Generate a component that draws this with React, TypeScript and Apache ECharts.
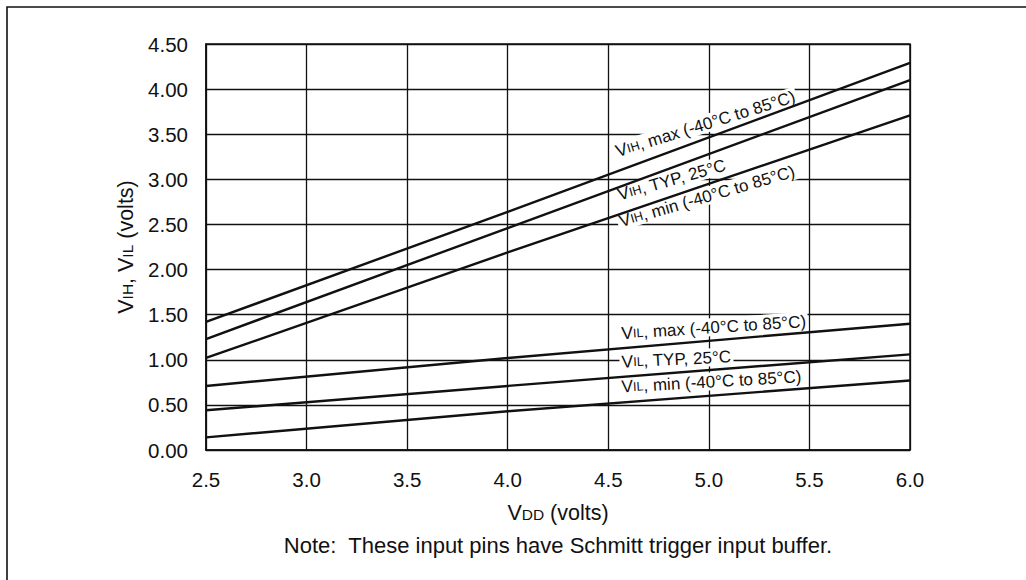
import React, { useEffect, useRef } from "react";
import * as echarts from "echarts";

// ---- data ----
const vdd = [2.5, 4.0, 6.0];
const vihMax = [1.42, 2.64, 4.29];
const vihTyp = [1.23, 2.46, 4.1];
const vihMin = [1.02, 2.19, 3.71];
const vilMax = [0.71, 1.02, 1.4];
const vilTyp = [0.44, 0.71, 1.06];
const vilMin = [0.14, 0.43, 0.77];

const xTickLabels = ["2.5", "3.0", "3.5", "4.0", "4.5", "5.0", "5.5", "6.0"];
const yTickLabels = ["0.00", "0.50", "1.00", "1.50", "2.00", "2.50", "3.00", "3.50", "4.00", "4.50"];

const curves = [
  { name: "VIH max", values: vihMax },
  { name: "VIH typ", values: vihTyp },
  { name: "VIH min", values: vihMin },
  { name: "VIL max", values: vilMax },
  { name: "VIL typ", values: vilTyp },
  { name: "VIL min", values: vilMin },
];

// curve annotations: subscript, remaining text, anchor in data coords, angle (deg)
const annSub = ["IH", "IH", "IH", "IL", "IL", "IL"];
const annText = [
  ", max (-40°C to 85°C)",
  ", TYP, 25°C",
  ", min (-40°C to 85°C)",
  ", max (-40°C to 85°C)",
  ", TYP, 25°C",
  ", min (-40°C to 85°C)",
];
const annX = [4.542, 4.55, 4.558, 4.558, 4.558, 4.558];
const annY = [3.251, 2.771, 2.475, 1.238, 0.923, 0.646];
const annAngle = [17.3, 15.8, 16.2, 3.8, 2.8, 3.3];

const noteText = "Note:  These input pins have Schmitt trigger input buffer.";

const INK = "#111";
const FONT = "'Liberation Sans', Arial, Helvetica, sans-serif";

export default function App() {
  const ref = useRef<HTMLDivElement>(null);

  useEffect(() => {
    if (!ref.current) return;
    const chart = echarts.init(ref.current, null, { renderer: "svg" });

    const nameRich = {
      v: { fontSize: 21.5, fontFamily: FONT, color: INK, verticalAlign: "bottom" },
      s: { fontSize: 15.5, fontFamily: FONT, color: INK, verticalAlign: "bottom", padding: [0, 0, 2, 0] },
      t: { fontSize: 21.5, fontFamily: FONT, color: INK, verticalAlign: "bottom" },
    };

    const baseOption: any = {
      animation: false,
      backgroundColor: "#fff",
      textStyle: { fontFamily: FONT, color: INK },
      grid: {
        left: 206,
        top: 44,
        right: 116,
        bottom: 130,
        show: true,
        borderColor: INK,
        borderWidth: 1.5,
      },
      xAxis: {
        type: "value",
        min: 2.5,
        max: 6.0,
        interval: 0.5,
        name: "{v|V}{s|DD}{t| (volts)}",
        nameLocation: "middle",
        nameGap: 52,
        nameTextStyle: { rich: nameRich },
        axisLine: { show: true, lineStyle: { color: INK, width: 1.5 } },
        axisTick: { show: false },
        splitLine: { show: true, lineStyle: { color: INK, width: 1.3 } },
        axisLabel: {
          color: INK,
          fontSize: 20.5,
          fontFamily: FONT,
          margin: 19,
          formatter: (v: number) => xTickLabels[Math.round((v - 2.5) / 0.5)] ?? "",
        },
      },
      yAxis: {
        type: "value",
        min: 0,
        max: 4.5,
        interval: 0.5,
        name: "{v|V}{s|IH}{t|, }{v|V}{s|IL}{t| (volts)}",
        nameLocation: "middle",
        nameGap: 62,
        nameTextStyle: { rich: nameRich },
        axisLine: { show: true, lineStyle: { color: INK, width: 1.5 } },
        axisTick: { show: false },
        splitLine: { show: true, lineStyle: { color: INK, width: 1.3 } },
        axisLabel: {
          color: INK,
          fontSize: 20.5,
          fontFamily: FONT,
          margin: 18,
          formatter: (v: number) => yTickLabels[Math.round(v / 0.5)] ?? "",
        },
      },
      series: curves.map((c) => ({
        name: c.name,
        type: "line",
        z: 3,
        symbol: "none",
        silent: true,
        lineStyle: { color: INK, width: 2.4 },
        data: vdd.map((x, i) => [x, c.values[i]]),
      })),
    };

    chart.setOption(baseOption);

    const labelRich = {
      v: { fontSize: 17.5, fontFamily: FONT, fill: INK, verticalAlign: "bottom" },
      s: { fontSize: 12.5, fontFamily: FONT, fill: INK, verticalAlign: "bottom", padding: [0, 0, 1.5, 0] },
      t: { fontSize: 17, fontFamily: FONT, fill: INK, verticalAlign: "bottom" },
    };

    const annGraphics = annSub.map((sub, i) => {
      const p = chart.convertToPixel({ gridIndex: 0 }, [annX[i], annY[i]]) as number[];
      return {
        type: "text",
        x: p[0],
        y: p[1] + 4,
        rotation: (annAngle[i] * Math.PI) / 180,
        z: 1,
        silent: true,
        style: {
          text: `{v|V}{s|${sub}}{t|${annText[i]}}`,
          rich: labelRich,
          align: "left",
          verticalAlign: "bottom",
          backgroundColor: "#fff",
          padding: [0, 2, 0, 2],
          fill: INK,
        },
      };
    });

    const centerX = chart.convertToPixel({ gridIndex: 0 }, [4.25, 0]) as number[];

    chart.setOption({
      graphic: [
        {
          type: "rect",
          z: 1,
          silent: true,
          shape: { x: 7, y: 7, width: 1060, height: 620 },
          style: { fill: "none", stroke: INK, lineWidth: 1.6 },
        },
        ...annGraphics,
        {
          type: "text",
          x: centerX[0],
          y: 545,
          z: 1,
          silent: true,
          style: {
            text: noteText,
            font: `22px ${FONT}`,
            fill: INK,
            align: "center",
            verticalAlign: "middle",
          },
        },
      ],
    });

    return () => chart.dispose();
  }, []);

  return (
    <div
      ref={ref}
      style={{ position: "fixed", left: 0, top: 0, width: 1026, height: 580, background: "#fff" }}
    />
  );
}
